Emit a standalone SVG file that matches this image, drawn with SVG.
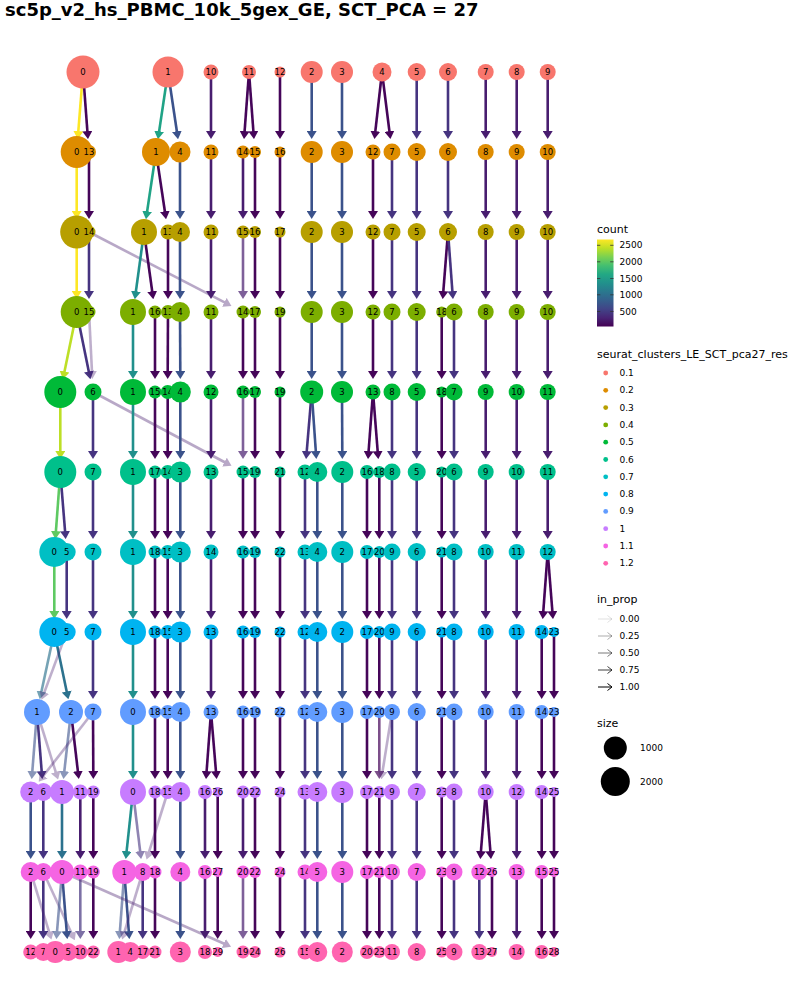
<svg xmlns="http://www.w3.org/2000/svg" width="800" height="1000" viewBox="0 0 800 1000">
<style>
text{font-family:"DejaVu Sans","Liberation Sans",sans-serif;fill:#000}
.title{font-size:18px;font-weight:bold}
.nodes text{font-size:8.5px;text-anchor:middle;dominant-baseline:central}
.lt{font-size:11px}
.ll{font-size:9px;dominant-baseline:central}
#connectors path{fill:none;stroke-width:2.6}
.Y{stroke:#fde725;marker-end:url(#mY)}
.YG{stroke:#bddf26;marker-end:url(#mYG)}
.G{stroke:#5ec962;marker-end:url(#mG)}
.T1{stroke:#20a386;marker-end:url(#mT1)}
.T{stroke:#21908c;marker-end:url(#mT)}
.DT{stroke:#2c728e;marker-end:url(#mDT)}
.B{stroke:#3b528b;marker-end:url(#mB)}
.P2{stroke:#463480;marker-end:url(#mP2)}
.P1{stroke:#481d6f;marker-end:url(#mP1)}
.DP{stroke:#450559;marker-end:url(#mDP)}
.c0 circle{fill:#F8766D}.c1 circle{fill:#DE8C00}.c2 circle{fill:#B79F00}.c3 circle{fill:#7CAE00}
.c4 circle{fill:#00BA38}.c5 circle{fill:#00C08B}.c6 circle{fill:#00BFC4}.c7 circle{fill:#00B4F0}
.c8 circle{fill:#619CFF}.c9 circle{fill:#C77CFF}.c10 circle{fill:#F564E3}.c11 circle{fill:#FF64B0}
</style>
<defs>
<marker id="mY" markerUnits="userSpaceOnUse" markerWidth="8" markerHeight="10" viewBox="0 0 8 10" refX="3" refY="5" orient="auto"><path d="M0,0L8,5L0,10z" fill="#fde725"/></marker>
<marker id="mYG" markerUnits="userSpaceOnUse" markerWidth="8" markerHeight="10" viewBox="0 0 8 10" refX="3" refY="5" orient="auto"><path d="M0,0L8,5L0,10z" fill="#bddf26"/></marker>
<marker id="mG" markerUnits="userSpaceOnUse" markerWidth="8" markerHeight="10" viewBox="0 0 8 10" refX="3" refY="5" orient="auto"><path d="M0,0L8,5L0,10z" fill="#5ec962"/></marker>
<marker id="mT1" markerUnits="userSpaceOnUse" markerWidth="8" markerHeight="10" viewBox="0 0 8 10" refX="3" refY="5" orient="auto"><path d="M0,0L8,5L0,10z" fill="#20a386"/></marker>
<marker id="mT" markerUnits="userSpaceOnUse" markerWidth="8" markerHeight="10" viewBox="0 0 8 10" refX="3" refY="5" orient="auto"><path d="M0,0L8,5L0,10z" fill="#21908c"/></marker>
<marker id="mDT" markerUnits="userSpaceOnUse" markerWidth="8" markerHeight="10" viewBox="0 0 8 10" refX="3" refY="5" orient="auto"><path d="M0,0L8,5L0,10z" fill="#2c728e"/></marker>
<marker id="mB" markerUnits="userSpaceOnUse" markerWidth="8" markerHeight="10" viewBox="0 0 8 10" refX="3" refY="5" orient="auto"><path d="M0,0L8,5L0,10z" fill="#3b528b"/></marker>
<marker id="mP2" markerUnits="userSpaceOnUse" markerWidth="8" markerHeight="10" viewBox="0 0 8 10" refX="3" refY="5" orient="auto"><path d="M0,0L8,5L0,10z" fill="#463480"/></marker>
<marker id="mP1" markerUnits="userSpaceOnUse" markerWidth="8" markerHeight="10" viewBox="0 0 8 10" refX="3" refY="5" orient="auto"><path d="M0,0L8,5L0,10z" fill="#481d6f"/></marker>
<marker id="mDP" markerUnits="userSpaceOnUse" markerWidth="8" markerHeight="10" viewBox="0 0 8 10" refX="3" refY="5" orient="auto"><path d="M0,0L8,5L0,10z" fill="#450559"/></marker>
<linearGradient id="vir" x1="0" y1="1" x2="0" y2="0">
<stop offset="0" stop-color="#440154"/><stop offset="0.1" stop-color="#482475"/><stop offset="0.2" stop-color="#414487"/><stop offset="0.3" stop-color="#355f8d"/><stop offset="0.4" stop-color="#2a788e"/><stop offset="0.5" stop-color="#21918c"/><stop offset="0.6" stop-color="#22a884"/><stop offset="0.7" stop-color="#44bf70"/><stop offset="0.8" stop-color="#7ad151"/><stop offset="0.9" stop-color="#bddf26"/><stop offset="1" stop-color="#fde725"/>
</linearGradient>
</defs>
<rect width="800" height="1000" fill="#fff"/>
<text class="title" x="5" y="16">sc5p_v2_hs_PBMC_10k_5gex_GE, SCT_PCA = 27</text>
<g id="connectors">
<path class="Y" d="M83 72L78.1 134.1"/><path class="DP" d="M83 72L87.6 134.1"/><path class="T1" d="M168 72L158.7 134.2"/><path class="B" d="M168 72L177.3 134.2"/><path class="P1" d="M211 72V134"/><path class="DP" d="M249 72L244.4 134.1"/><path class="DP" d="M249 72L253.6 134.1"/><path class="DP" d="M280 72V134"/><path class="B" d="M311.7 72V134"/><path class="B" d="M342 72V134"/><path class="DP" d="M382 72L375 134.1"/><path class="DP" d="M382 72L389.8 134.1"/><path class="P2" d="M416.7 72V134"/><path class="P2" d="M448 72V134"/><path class="P1" d="M485.7 72V134"/><path class="P1" d="M516.7 72V134"/><path class="P1" d="M547.7 72V134"/>
<path class="Y" d="M76.7 152V214"/><path class="DP" d="M89 152V214"/><path class="T1" d="M156 152L146.7 214.2"/><path class="DP" d="M156 152L165.3 214.2"/><path class="B" d="M180 152V214"/><path class="P1" d="M211 152V214"/><path class="P1" d="M243 152V214"/><path class="DP" d="M255 152V214"/><path class="DP" d="M280 152V214"/><path class="B" d="M311.7 152V214"/><path class="B" d="M342 152V214"/><path class="DP" d="M373 152V214"/><path class="P2" d="M392 152V214"/><path class="P2" d="M416.7 152V214"/><path class="P2" d="M448 152V214"/><path class="P1" d="M485.7 152V214"/><path class="P1" d="M516.7 152V214"/><path class="P1" d="M547.7 152V214"/>
<path class="Y" d="M76.7 232V294"/><path class="P2" d="M89 232V294"/><g opacity=".38"><path class="P1" d="M89 232L227 303.7"/></g><path class="T" d="M144 232L135.5 294.2"/><path class="DP" d="M144 232L152.6 294.2"/><path class="DP" d="M168 232V294"/><path class="B" d="M180 232V294"/><path class="P1" d="M211 232V294"/><g opacity=".7"><path class="P1" d="M243 232V294"/></g><path class="DP" d="M255 232V294"/><path class="DP" d="M280 232V294"/><path class="B" d="M311.7 232V294"/><path class="B" d="M342 232V294"/><path class="DP" d="M373 232V294"/><path class="P2" d="M392 232V294"/><path class="P2" d="M416.7 232V294"/><path class="DP" d="M448 232L443.1 294.1"/><path class="P2" d="M448 232L452.6 294.1"/><path class="P1" d="M485.7 232V294"/><path class="P1" d="M516.7 232V294"/><path class="P1" d="M547.7 232V294"/>
<path class="YG" d="M76.7 312L63.9 374.4"/><path class="P2" d="M76.7 312L89.4 374.4"/><g opacity=".35"><path class="P1" d="M89 312L92.1 374"/></g><path class="T" d="M133 312V374"/><path class="DP" d="M155 312V374"/><path class="DP" d="M168 312L167.7 374"/><path class="B" d="M180 312L180.3 374"/><path class="P1" d="M211 312V374"/><path class="DP" d="M243 312V374"/><path class="DP" d="M255 312V374"/><path class="DP" d="M280 312V374"/><path class="B" d="M311.7 312V374"/><path class="B" d="M342 312V374"/><path class="DP" d="M373 312V374"/><path class="P2" d="M392 312V374"/><path class="P2" d="M416.7 312V374"/><path class="DP" d="M441.7 312V374"/><path class="P2" d="M454 312V374"/><path class="P1" d="M485.7 312V374"/><path class="P1" d="M516.7 312V374"/><path class="P1" d="M547.7 312V374"/>
<path class="YG" d="M60.3 392V454"/><path class="P2" d="M93 392V454"/><g opacity=".38"><path class="P1" d="M93 392L227.1 463.5"/></g><path class="T" d="M133 392V454"/><path class="DP" d="M155 392V454"/><path class="DP" d="M167.7 392V454"/><path class="B" d="M180.3 392V454"/><path class="P1" d="M211 392V454"/><g opacity=".7"><path class="P1" d="M243 392V454"/></g><path class="DP" d="M255 392V454"/><path class="DP" d="M280 392V454"/><path class="P2" d="M311.7 392L306.5 454.1"/><path class="B" d="M311.7 392L316 454"/><path class="B" d="M342 392L342.3 454"/><path class="DP" d="M373 392L368.4 454.1"/><path class="DP" d="M373 392L377.9 454.1"/><path class="P2" d="M392 392V454"/><path class="P2" d="M416.7 392V454"/><path class="DP" d="M441.7 392V454"/><path class="P2" d="M454 392V454"/><path class="P1" d="M485.7 392V454"/><path class="P1" d="M516.7 392V454"/><path class="P1" d="M547.7 392V454"/>
<path class="G" d="M60.3 472L55.7 534.1"/><path class="P2" d="M60.3 472L65.3 534.1"/><path class="P2" d="M93 472V534"/><path class="T" d="M133 472V534"/><path class="DP" d="M155 472V534"/><path class="DP" d="M167.7 472V534"/><path class="B" d="M180.3 472V534"/><path class="P1" d="M211 472V534"/><path class="DP" d="M243 472V534"/><path class="DP" d="M255 472V534"/><path class="DP" d="M280 472V534"/><path class="P2" d="M305 472V534"/><path class="B" d="M317.3 472V534"/><path class="B" d="M342.3 472V534"/><path class="DP" d="M367 472V534"/><path class="DP" d="M379.3 472V534"/><path class="P2" d="M392 472V534"/><path class="P2" d="M416.7 472V534"/><path class="DP" d="M441.7 472V534"/><path class="P2" d="M454 472V534"/><path class="P1" d="M485.7 472V534"/><path class="P1" d="M516.7 472V534"/><path class="P1" d="M547.7 472V534"/>
<path class="G" d="M54.3 552V614"/><path class="P2" d="M66.7 552V614"/><path class="P2" d="M93 552V614"/><path class="T" d="M133 552V614"/><path class="DP" d="M155 552V614"/><path class="DP" d="M167.7 552V614"/><path class="B" d="M180.3 552V614"/><path class="P1" d="M211 552V614"/><path class="DP" d="M243 552V614"/><path class="DP" d="M255 552V614"/><path class="DP" d="M280 552V614"/><path class="P2" d="M305 552V614"/><path class="B" d="M317.3 552V614"/><path class="B" d="M342.3 552V614"/><path class="DP" d="M367 552V614"/><path class="DP" d="M379.3 552V614"/><path class="P2" d="M392 552V614"/><path class="P2" d="M416.7 552V614"/><path class="DP" d="M441.7 552V614"/><path class="P2" d="M454 552V614"/><path class="P1" d="M485.7 552V614"/><path class="P1" d="M516.7 552V614"/><path class="DP" d="M547.7 552L543.1 614.1"/><path class="DP" d="M547.7 552L552.6 614.1"/>
<g opacity=".65"><path class="DT" d="M54.3 632L40.8 694.4"/></g><path class="DT" d="M54.3 632L67.3 694.4"/><g opacity=".35"><path class="P1" d="M66.7 632L43.3 695.1"/></g><path class="P2" d="M93 632V694"/><path class="T" d="M133 632V694"/><path class="DP" d="M155 632V694"/><path class="DP" d="M167.7 632V694"/><path class="B" d="M180.3 632V694"/><path class="P1" d="M211 632V694"/><path class="DP" d="M243 632V694"/><path class="DP" d="M255 632V694"/><path class="DP" d="M280 632V694"/><path class="P2" d="M305 632V694"/><path class="B" d="M317.3 632V694"/><path class="B" d="M342.3 632V694"/><path class="DP" d="M367 632V694"/><path class="DP" d="M379.3 632V694"/><path class="P2" d="M392 632V694"/><path class="P2" d="M416.7 632V694"/><path class="DP" d="M441.7 632V694"/><path class="P2" d="M454 632V694"/><path class="P1" d="M485.7 632V694"/><path class="P1" d="M516.7 632V694"/><path class="DP" d="M541.7 632V694"/><path class="DP" d="M554 632V694"/>
<g opacity=".6"><path class="B" d="M37 712L32.1 774.1"/></g><path class="P2" d="M37 712L41.9 774.1"/><g opacity=".35"><path class="P1" d="M37 712L56.6 774.8"/></g><g opacity=".6"><path class="B" d="M71 712L64 774.1"/></g><path class="DP" d="M71 712L78.2 774.1"/><g opacity=".35"><path class="P1" d="M93 712L41.8 777.8"/></g><path class="DP" d="M93 712L93.3 774"/><path class="T" d="M133 712V774"/><path class="DP" d="M155 712V774"/><path class="DP" d="M167.7 712V774"/><path class="B" d="M180.3 712V774"/><path class="DP" d="M211 712L206.4 774.1"/><path class="DP" d="M211 712L216.2 774.1"/><path class="DP" d="M243 712V774"/><path class="DP" d="M255 712V774"/><path class="DP" d="M280 712V774"/><path class="P2" d="M305 712V774"/><path class="B" d="M317.3 712V774"/><path class="B" d="M342.3 712V774"/><path class="DP" d="M367 712V774"/><g opacity=".7"><path class="DP" d="M379.3 712V774"/></g><g opacity=".35"><path class="P1" d="M392 712L382.1 774.2"/></g><path class="P2" d="M392 712V774"/><path class="P2" d="M416.7 712V774"/><path class="DP" d="M441.7 712V774"/><path class="P2" d="M454 712V774"/><path class="P1" d="M485.7 712V774"/><path class="P1" d="M516.7 712V774"/><path class="DP" d="M541.7 712V774"/><path class="DP" d="M554 712V774"/>
<path class="B" d="M30.7 792V854"/><path class="P2" d="M43.3 792V854"/><path class="DT" d="M62 792V854"/><path class="P1" d="M80.3 792V854"/><path class="DP" d="M93.3 792V854"/><path class="T" d="M133 792L126.3 854.1"/><g opacity=".6"><path class="P2" d="M133 792L140.5 854.1"/></g><g opacity=".35"><path class="P1" d="M167.7 792L148.1 854.8"/></g><path class="DP" d="M155 792V854"/><path class="B" d="M180.3 792V854"/><path class="P1" d="M205 792V854"/><path class="DP" d="M217.7 792V854"/><path class="P1" d="M243 792V854"/><path class="DP" d="M255 792V854"/><path class="DP" d="M280 792V854"/><path class="P2" d="M305 792V854"/><path class="B" d="M317.3 792V854"/><path class="B" d="M342.3 792V854"/><path class="DP" d="M367 792V854"/><path class="DP" d="M379.3 792V854"/><path class="P2" d="M392 792V854"/><path class="P2" d="M416.7 792V854"/><path class="DP" d="M441.7 792V854"/><path class="P2" d="M454 792V854"/><path class="DP" d="M485.7 792L480.7 854.1"/><path class="DP" d="M485.7 792L490.6 854.1"/><path class="P1" d="M516.7 792V854"/><path class="DP" d="M541.7 792V854"/><path class="DP" d="M554 792V854"/>
<path class="DP" d="M30.7 872V934"/><path class="P2" d="M43.3 872V934"/><g opacity=".35"><path class="P1" d="M30.7 872L50 934.8"/></g><g opacity=".35"><path class="P1" d="M43.3 872L72.7 935.7"/></g><g opacity=".6"><path class="B" d="M62 872L56.8 934.1"/></g><path class="B" d="M62 872L66.9 934.1"/><g opacity=".7"><path class="P2" d="M80.3 872V934"/></g><path class="DP" d="M93.3 872V934"/><g opacity=".6"><path class="B" d="M124.3 872L119.7 934.1"/></g><path class="B" d="M124.3 872L129 934.1"/><g opacity=".35"><path class="P1" d="M142.7 872L123.6 934.8"/></g><path class="P2" d="M142.7 872V934"/><path class="DP" d="M155 872V934"/><g opacity=".38"><path class="P1" d="M62 872L226.5 944.7"/></g><path class="B" d="M180.3 872V934"/><path class="P1" d="M205 872V934"/><path class="DP" d="M217.7 872V934"/><g opacity=".7"><path class="P1" d="M243 872V934"/></g><path class="DP" d="M255 872V934"/><path class="DP" d="M280 872V934"/><path class="P2" d="M305 872V934"/><path class="B" d="M317.3 872V934"/><path class="B" d="M342.3 872V934"/><path class="DP" d="M367 872V934"/><path class="DP" d="M379.3 872V934"/><path class="P2" d="M392 872V934"/><path class="P2" d="M416.7 872V934"/><path class="DP" d="M441.7 872V934"/><path class="P2" d="M454 872V934"/><path class="P2" d="M479.3 872V934"/><path class="DP" d="M492 872V934"/><path class="P1" d="M516.7 872V934"/><path class="DP" d="M541.7 872V934"/><path class="DP" d="M554 872V934"/>
</g>
<g class="nodes">
<g id="res0.1" class="c0">
<g id="r0_0"><circle cx="83" cy="72" r="16.5"/><text x="83" y="72">0</text></g>
<g id="r0_1"><circle cx="168" cy="72" r="15.5"/><text x="168" y="72">1</text></g>
<g id="r0_10"><circle cx="211" cy="72" r="7.5"/><text x="211" y="72">10</text></g>
<g id="r0_11"><circle cx="249" cy="72" r="7"/><text x="249" y="72">11</text></g>
<g id="r0_12"><circle cx="280" cy="72" r="5.5"/><text x="280" y="72">12</text></g>
<g id="r0_2"><circle cx="311.7" cy="72" r="11"/><text x="311.7" y="72">2</text></g>
<g id="r0_3"><circle cx="342" cy="72" r="11"/><text x="342" y="72">3</text></g>
<g id="r0_4"><circle cx="382" cy="72" r="9.5"/><text x="382" y="72">4</text></g>
<g id="r0_5"><circle cx="416.7" cy="72" r="9"/><text x="416.7" y="72">5</text></g>
<g id="r0_6"><circle cx="448" cy="72" r="9"/><text x="448" y="72">6</text></g>
<g id="r0_7"><circle cx="485.7" cy="72" r="8"/><text x="485.7" y="72">7</text></g>
<g id="r0_8"><circle cx="516.7" cy="72" r="8"/><text x="516.7" y="72">8</text></g>
<g id="r0_9"><circle cx="547.7" cy="72" r="8"/><text x="547.7" y="72">9</text></g>
</g>
<g id="res0.2" class="c1">
<g id="r1_0"><circle cx="76.7" cy="152" r="16"/><text x="76.7" y="152">0</text></g>
<g id="r1_13"><circle cx="89" cy="152" r="7"/><text x="89" y="152">13</text></g>
<g id="r1_1"><circle cx="156" cy="152" r="14"/><text x="156" y="152">1</text></g>
<g id="r1_4"><circle cx="180" cy="152" r="10.5"/><text x="180" y="152">4</text></g>
<g id="r1_11"><circle cx="211" cy="152" r="7.5"/><text x="211" y="152">11</text></g>
<g id="r1_14"><circle cx="243" cy="152" r="6.5"/><text x="243" y="152">14</text></g>
<g id="r1_15"><circle cx="255" cy="152" r="6"/><text x="255" y="152">15</text></g>
<g id="r1_16"><circle cx="280" cy="152" r="5.5"/><text x="280" y="152">16</text></g>
<g id="r1_2"><circle cx="311.7" cy="152" r="11"/><text x="311.7" y="152">2</text></g>
<g id="r1_3"><circle cx="342" cy="152" r="11"/><text x="342" y="152">3</text></g>
<g id="r1_12"><circle cx="373" cy="152" r="7.5"/><text x="373" y="152">12</text></g>
<g id="r1_7"><circle cx="392" cy="152" r="8.5"/><text x="392" y="152">7</text></g>
<g id="r1_5"><circle cx="416.7" cy="152" r="9"/><text x="416.7" y="152">5</text></g>
<g id="r1_6"><circle cx="448" cy="152" r="9"/><text x="448" y="152">6</text></g>
<g id="r1_8"><circle cx="485.7" cy="152" r="8"/><text x="485.7" y="152">8</text></g>
<g id="r1_9"><circle cx="516.7" cy="152" r="8"/><text x="516.7" y="152">9</text></g>
<g id="r1_10"><circle cx="547.7" cy="152" r="8"/><text x="547.7" y="152">10</text></g>
</g>
<g id="res0.3" class="c2">
<g id="r2_0"><circle cx="76.7" cy="232" r="16.5"/><text x="76.7" y="232">0</text></g>
<g id="r2_14"><circle cx="89" cy="232" r="6.5"/><text x="89" y="232">14</text></g>
<g id="r2_1"><circle cx="144" cy="232" r="13"/><text x="144" y="232">1</text></g>
<g id="r2_13"><circle cx="168" cy="232" r="7.5"/><text x="168" y="232">13</text></g>
<g id="r2_4"><circle cx="180" cy="232" r="10"/><text x="180" y="232">4</text></g>
<g id="r2_11"><circle cx="211" cy="232" r="7.5"/><text x="211" y="232">11</text></g>
<g id="r2_15"><circle cx="243" cy="232" r="6.5"/><text x="243" y="232">15</text></g>
<g id="r2_16"><circle cx="255" cy="232" r="6"/><text x="255" y="232">16</text></g>
<g id="r2_17"><circle cx="280" cy="232" r="5.5"/><text x="280" y="232">17</text></g>
<g id="r2_2"><circle cx="311.7" cy="232" r="11"/><text x="311.7" y="232">2</text></g>
<g id="r2_3"><circle cx="342" cy="232" r="11"/><text x="342" y="232">3</text></g>
<g id="r2_12"><circle cx="373" cy="232" r="7.5"/><text x="373" y="232">12</text></g>
<g id="r2_7"><circle cx="392" cy="232" r="8.5"/><text x="392" y="232">7</text></g>
<g id="r2_5"><circle cx="416.7" cy="232" r="9"/><text x="416.7" y="232">5</text></g>
<g id="r2_6"><circle cx="448" cy="232" r="9"/><text x="448" y="232">6</text></g>
<g id="r2_8"><circle cx="485.7" cy="232" r="8"/><text x="485.7" y="232">8</text></g>
<g id="r2_9"><circle cx="516.7" cy="232" r="8"/><text x="516.7" y="232">9</text></g>
<g id="r2_10"><circle cx="547.7" cy="232" r="8"/><text x="547.7" y="232">10</text></g>
</g>
<g id="res0.4" class="c3">
<g id="r3_0"><circle cx="76.7" cy="312" r="16"/><text x="76.7" y="312">0</text></g>
<g id="r3_15"><circle cx="89" cy="312" r="6.5"/><text x="89" y="312">15</text></g>
<g id="r3_1"><circle cx="133" cy="312" r="13"/><text x="133" y="312">1</text></g>
<g id="r3_16"><circle cx="155" cy="312" r="6.5"/><text x="155" y="312">16</text></g>
<g id="r3_13"><circle cx="168" cy="312" r="7"/><text x="168" y="312">13</text></g>
<g id="r3_4"><circle cx="180" cy="312" r="10"/><text x="180" y="312">4</text></g>
<g id="r3_11"><circle cx="211" cy="312" r="7.5"/><text x="211" y="312">11</text></g>
<g id="r3_14"><circle cx="243" cy="312" r="6.5"/><text x="243" y="312">14</text></g>
<g id="r3_17"><circle cx="255" cy="312" r="6"/><text x="255" y="312">17</text></g>
<g id="r3_19"><circle cx="280" cy="312" r="5.5"/><text x="280" y="312">19</text></g>
<g id="r3_2"><circle cx="311.7" cy="312" r="11"/><text x="311.7" y="312">2</text></g>
<g id="r3_3"><circle cx="342" cy="312" r="11"/><text x="342" y="312">3</text></g>
<g id="r3_12"><circle cx="373" cy="312" r="7.5"/><text x="373" y="312">12</text></g>
<g id="r3_7"><circle cx="392" cy="312" r="8.5"/><text x="392" y="312">7</text></g>
<g id="r3_5"><circle cx="416.7" cy="312" r="9"/><text x="416.7" y="312">5</text></g>
<g id="r3_18"><circle cx="441.7" cy="312" r="5.5"/><text x="441.7" y="312">18</text></g>
<g id="r3_6"><circle cx="454" cy="312" r="8.5"/><text x="454" y="312">6</text></g>
<g id="r3_8"><circle cx="485.7" cy="312" r="8"/><text x="485.7" y="312">8</text></g>
<g id="r3_9"><circle cx="516.7" cy="312" r="8"/><text x="516.7" y="312">9</text></g>
<g id="r3_10"><circle cx="547.7" cy="312" r="8"/><text x="547.7" y="312">10</text></g>
</g>
<g id="res0.5" class="c4">
<g id="r4_0"><circle cx="60.3" cy="392" r="16"/><text x="60.3" y="392">0</text></g>
<g id="r4_6"><circle cx="93" cy="392" r="8.5"/><text x="93" y="392">6</text></g>
<g id="r4_1"><circle cx="133" cy="392" r="13"/><text x="133" y="392">1</text></g>
<g id="r4_15"><circle cx="155" cy="392" r="6.5"/><text x="155" y="392">15</text></g>
<g id="r4_14"><circle cx="167.7" cy="392" r="7"/><text x="167.7" y="392">14</text></g>
<g id="r4_4"><circle cx="180.3" cy="392" r="10.5"/><text x="180.3" y="392">4</text></g>
<g id="r4_12"><circle cx="211" cy="392" r="7.5"/><text x="211" y="392">12</text></g>
<g id="r4_16"><circle cx="243" cy="392" r="6.5"/><text x="243" y="392">16</text></g>
<g id="r4_17"><circle cx="255" cy="392" r="6"/><text x="255" y="392">17</text></g>
<g id="r4_19"><circle cx="280" cy="392" r="5.5"/><text x="280" y="392">19</text></g>
<g id="r4_2"><circle cx="311.7" cy="392" r="11.5"/><text x="311.7" y="392">2</text></g>
<g id="r4_3"><circle cx="342" cy="392" r="11"/><text x="342" y="392">3</text></g>
<g id="r4_13"><circle cx="373" cy="392" r="7.5"/><text x="373" y="392">13</text></g>
<g id="r4_8"><circle cx="392" cy="392" r="8.5"/><text x="392" y="392">8</text></g>
<g id="r4_5"><circle cx="416.7" cy="392" r="9"/><text x="416.7" y="392">5</text></g>
<g id="r4_18"><circle cx="441.7" cy="392" r="5.5"/><text x="441.7" y="392">18</text></g>
<g id="r4_7"><circle cx="454" cy="392" r="8.5"/><text x="454" y="392">7</text></g>
<g id="r4_9"><circle cx="485.7" cy="392" r="8"/><text x="485.7" y="392">9</text></g>
<g id="r4_10"><circle cx="516.7" cy="392" r="8"/><text x="516.7" y="392">10</text></g>
<g id="r4_11"><circle cx="547.7" cy="392" r="8"/><text x="547.7" y="392">11</text></g>
</g>
<g id="res0.6" class="c5">
<g id="r5_0"><circle cx="60.3" cy="472" r="16"/><text x="60.3" y="472">0</text></g>
<g id="r5_7"><circle cx="93" cy="472" r="8.5"/><text x="93" y="472">7</text></g>
<g id="r5_1"><circle cx="133" cy="472" r="13"/><text x="133" y="472">1</text></g>
<g id="r5_17"><circle cx="155" cy="472" r="6.5"/><text x="155" y="472">17</text></g>
<g id="r5_14"><circle cx="167.7" cy="472" r="7"/><text x="167.7" y="472">14</text></g>
<g id="r5_3"><circle cx="180.3" cy="472" r="10.5"/><text x="180.3" y="472">3</text></g>
<g id="r5_13"><circle cx="211" cy="472" r="7.5"/><text x="211" y="472">13</text></g>
<g id="r5_15"><circle cx="243" cy="472" r="6.5"/><text x="243" y="472">15</text></g>
<g id="r5_19"><circle cx="255" cy="472" r="6"/><text x="255" y="472">19</text></g>
<g id="r5_21"><circle cx="280" cy="472" r="5.5"/><text x="280" y="472">21</text></g>
<g id="r5_12"><circle cx="305" cy="472" r="7.5"/><text x="305" y="472">12</text></g>
<g id="r5_4"><circle cx="317.3" cy="472" r="10"/><text x="317.3" y="472">4</text></g>
<g id="r5_2"><circle cx="342.3" cy="472" r="11"/><text x="342.3" y="472">2</text></g>
<g id="r5_16"><circle cx="367" cy="472" r="7"/><text x="367" y="472">16</text></g>
<g id="r5_18"><circle cx="379.3" cy="472" r="6"/><text x="379.3" y="472">18</text></g>
<g id="r5_8"><circle cx="392" cy="472" r="8.5"/><text x="392" y="472">8</text></g>
<g id="r5_5"><circle cx="416.7" cy="472" r="9"/><text x="416.7" y="472">5</text></g>
<g id="r5_20"><circle cx="441.7" cy="472" r="5.5"/><text x="441.7" y="472">20</text></g>
<g id="r5_6"><circle cx="454" cy="472" r="8.5"/><text x="454" y="472">6</text></g>
<g id="r5_9"><circle cx="485.7" cy="472" r="8"/><text x="485.7" y="472">9</text></g>
<g id="r5_10"><circle cx="516.7" cy="472" r="8"/><text x="516.7" y="472">10</text></g>
<g id="r5_11"><circle cx="547.7" cy="472" r="8"/><text x="547.7" y="472">11</text></g>
</g>
<g id="res0.7" class="c6">
<g id="r6_0"><circle cx="54.3" cy="552" r="15"/><text x="54.3" y="552">0</text></g>
<g id="r6_5"><circle cx="66.7" cy="552" r="9"/><text x="66.7" y="552">5</text></g>
<g id="r6_7"><circle cx="93" cy="552" r="8.5"/><text x="93" y="552">7</text></g>
<g id="r6_1"><circle cx="133" cy="552" r="13"/><text x="133" y="552">1</text></g>
<g id="r6_18"><circle cx="155" cy="552" r="6.5"/><text x="155" y="552">18</text></g>
<g id="r6_15"><circle cx="167.7" cy="552" r="7"/><text x="167.7" y="552">15</text></g>
<g id="r6_3"><circle cx="180.3" cy="552" r="10.5"/><text x="180.3" y="552">3</text></g>
<g id="r6_14"><circle cx="211" cy="552" r="7.5"/><text x="211" y="552">14</text></g>
<g id="r6_16"><circle cx="243" cy="552" r="6.5"/><text x="243" y="552">16</text></g>
<g id="r6_19"><circle cx="255" cy="552" r="6"/><text x="255" y="552">19</text></g>
<g id="r6_22"><circle cx="280" cy="552" r="5.5"/><text x="280" y="552">22</text></g>
<g id="r6_13"><circle cx="305" cy="552" r="7.5"/><text x="305" y="552">13</text></g>
<g id="r6_4"><circle cx="317.3" cy="552" r="10"/><text x="317.3" y="552">4</text></g>
<g id="r6_2"><circle cx="342.3" cy="552" r="11"/><text x="342.3" y="552">2</text></g>
<g id="r6_17"><circle cx="367" cy="552" r="7"/><text x="367" y="552">17</text></g>
<g id="r6_20"><circle cx="379.3" cy="552" r="6"/><text x="379.3" y="552">20</text></g>
<g id="r6_9"><circle cx="392" cy="552" r="8.5"/><text x="392" y="552">9</text></g>
<g id="r6_6"><circle cx="416.7" cy="552" r="9"/><text x="416.7" y="552">6</text></g>
<g id="r6_21"><circle cx="441.7" cy="552" r="5.5"/><text x="441.7" y="552">21</text></g>
<g id="r6_8"><circle cx="454" cy="552" r="8.5"/><text x="454" y="552">8</text></g>
<g id="r6_10"><circle cx="485.7" cy="552" r="8"/><text x="485.7" y="552">10</text></g>
<g id="r6_11"><circle cx="516.7" cy="552" r="8"/><text x="516.7" y="552">11</text></g>
<g id="r6_12"><circle cx="547.7" cy="552" r="8"/><text x="547.7" y="552">12</text></g>
</g>
<g id="res0.8" class="c7">
<g id="r7_0"><circle cx="54.3" cy="632" r="15"/><text x="54.3" y="632">0</text></g>
<g id="r7_5"><circle cx="66.7" cy="632" r="9"/><text x="66.7" y="632">5</text></g>
<g id="r7_7"><circle cx="93" cy="632" r="8.5"/><text x="93" y="632">7</text></g>
<g id="r7_1"><circle cx="133" cy="632" r="13"/><text x="133" y="632">1</text></g>
<g id="r7_18"><circle cx="155" cy="632" r="6.5"/><text x="155" y="632">18</text></g>
<g id="r7_15"><circle cx="167.7" cy="632" r="7"/><text x="167.7" y="632">15</text></g>
<g id="r7_3"><circle cx="180.3" cy="632" r="10.5"/><text x="180.3" y="632">3</text></g>
<g id="r7_13"><circle cx="211" cy="632" r="7.5"/><text x="211" y="632">13</text></g>
<g id="r7_16"><circle cx="243" cy="632" r="6.5"/><text x="243" y="632">16</text></g>
<g id="r7_19"><circle cx="255" cy="632" r="6"/><text x="255" y="632">19</text></g>
<g id="r7_22"><circle cx="280" cy="632" r="5.5"/><text x="280" y="632">22</text></g>
<g id="r7_12"><circle cx="305" cy="632" r="7.5"/><text x="305" y="632">12</text></g>
<g id="r7_4"><circle cx="317.3" cy="632" r="10"/><text x="317.3" y="632">4</text></g>
<g id="r7_2"><circle cx="342.3" cy="632" r="11"/><text x="342.3" y="632">2</text></g>
<g id="r7_17"><circle cx="367" cy="632" r="7"/><text x="367" y="632">17</text></g>
<g id="r7_20"><circle cx="379.3" cy="632" r="6"/><text x="379.3" y="632">20</text></g>
<g id="r7_9"><circle cx="392" cy="632" r="8.5"/><text x="392" y="632">9</text></g>
<g id="r7_6"><circle cx="416.7" cy="632" r="9"/><text x="416.7" y="632">6</text></g>
<g id="r7_21"><circle cx="441.7" cy="632" r="5.5"/><text x="441.7" y="632">21</text></g>
<g id="r7_8"><circle cx="454" cy="632" r="8.5"/><text x="454" y="632">8</text></g>
<g id="r7_10"><circle cx="485.7" cy="632" r="8"/><text x="485.7" y="632">10</text></g>
<g id="r7_11"><circle cx="516.7" cy="632" r="8"/><text x="516.7" y="632">11</text></g>
<g id="r7_14"><circle cx="541.7" cy="632" r="7"/><text x="541.7" y="632">14</text></g>
<g id="r7_23"><circle cx="554" cy="632" r="5"/><text x="554" y="632">23</text></g>
</g>
<g id="res0.9" class="c8">
<g id="r8_1"><circle cx="37" cy="712" r="13"/><text x="37" y="712">1</text></g>
<g id="r8_2"><circle cx="71" cy="712" r="12"/><text x="71" y="712">2</text></g>
<g id="r8_7"><circle cx="93" cy="712" r="8.5"/><text x="93" y="712">7</text></g>
<g id="r8_0"><circle cx="133" cy="712" r="13"/><text x="133" y="712">0</text></g>
<g id="r8_18"><circle cx="155" cy="712" r="6.5"/><text x="155" y="712">18</text></g>
<g id="r8_15"><circle cx="167.7" cy="712" r="7"/><text x="167.7" y="712">15</text></g>
<g id="r8_4"><circle cx="180.3" cy="712" r="10"/><text x="180.3" y="712">4</text></g>
<g id="r8_13"><circle cx="211" cy="712" r="7.5"/><text x="211" y="712">13</text></g>
<g id="r8_16"><circle cx="243" cy="712" r="6.5"/><text x="243" y="712">16</text></g>
<g id="r8_19"><circle cx="255" cy="712" r="6"/><text x="255" y="712">19</text></g>
<g id="r8_22"><circle cx="280" cy="712" r="5.5"/><text x="280" y="712">22</text></g>
<g id="r8_12"><circle cx="305" cy="712" r="7.5"/><text x="305" y="712">12</text></g>
<g id="r8_5"><circle cx="317.3" cy="712" r="10"/><text x="317.3" y="712">5</text></g>
<g id="r8_3"><circle cx="342.3" cy="712" r="11"/><text x="342.3" y="712">3</text></g>
<g id="r8_17"><circle cx="367" cy="712" r="7"/><text x="367" y="712">17</text></g>
<g id="r8_20"><circle cx="379.3" cy="712" r="6"/><text x="379.3" y="712">20</text></g>
<g id="r8_9"><circle cx="392" cy="712" r="8"/><text x="392" y="712">9</text></g>
<g id="r8_6"><circle cx="416.7" cy="712" r="9"/><text x="416.7" y="712">6</text></g>
<g id="r8_21"><circle cx="441.7" cy="712" r="5.5"/><text x="441.7" y="712">21</text></g>
<g id="r8_8"><circle cx="454" cy="712" r="8.5"/><text x="454" y="712">8</text></g>
<g id="r8_10"><circle cx="485.7" cy="712" r="8"/><text x="485.7" y="712">10</text></g>
<g id="r8_11"><circle cx="516.7" cy="712" r="8"/><text x="516.7" y="712">11</text></g>
<g id="r8_14"><circle cx="541.7" cy="712" r="7"/><text x="541.7" y="712">14</text></g>
<g id="r8_23"><circle cx="554" cy="712" r="5"/><text x="554" y="712">23</text></g>
</g>
<g id="res1" class="c9">
<g id="r9_2"><circle cx="30.7" cy="792" r="10.5"/><text x="30.7" y="792">2</text></g>
<g id="r9_6"><circle cx="43.3" cy="792" r="9"/><text x="43.3" y="792">6</text></g>
<g id="r9_1"><circle cx="62" cy="792" r="12"/><text x="62" y="792">1</text></g>
<g id="r9_11"><circle cx="80.3" cy="792" r="7.5"/><text x="80.3" y="792">11</text></g>
<g id="r9_19"><circle cx="93.3" cy="792" r="6.5"/><text x="93.3" y="792">19</text></g>
<g id="r9_0"><circle cx="133" cy="792" r="13"/><text x="133" y="792">0</text></g>
<g id="r9_18"><circle cx="155" cy="792" r="6.5"/><text x="155" y="792">18</text></g>
<g id="r9_15"><circle cx="167.7" cy="792" r="7"/><text x="167.7" y="792">15</text></g>
<g id="r9_4"><circle cx="180.3" cy="792" r="10"/><text x="180.3" y="792">4</text></g>
<g id="r9_16"><circle cx="205" cy="792" r="7"/><text x="205" y="792">16</text></g>
<g id="r9_26"><circle cx="217.7" cy="792" r="5"/><text x="217.7" y="792">26</text></g>
<g id="r9_20"><circle cx="243" cy="792" r="6.5"/><text x="243" y="792">20</text></g>
<g id="r9_22"><circle cx="255" cy="792" r="6"/><text x="255" y="792">22</text></g>
<g id="r9_24"><circle cx="280" cy="792" r="5.5"/><text x="280" y="792">24</text></g>
<g id="r9_13"><circle cx="305" cy="792" r="7.5"/><text x="305" y="792">13</text></g>
<g id="r9_5"><circle cx="317.3" cy="792" r="10"/><text x="317.3" y="792">5</text></g>
<g id="r9_3"><circle cx="342.3" cy="792" r="11"/><text x="342.3" y="792">3</text></g>
<g id="r9_17"><circle cx="367" cy="792" r="7"/><text x="367" y="792">17</text></g>
<g id="r9_21"><circle cx="379.3" cy="792" r="6"/><text x="379.3" y="792">21</text></g>
<g id="r9_9"><circle cx="392" cy="792" r="8"/><text x="392" y="792">9</text></g>
<g id="r9_7"><circle cx="416.7" cy="792" r="9"/><text x="416.7" y="792">7</text></g>
<g id="r9_23"><circle cx="441.7" cy="792" r="5.5"/><text x="441.7" y="792">23</text></g>
<g id="r9_8"><circle cx="454" cy="792" r="8.5"/><text x="454" y="792">8</text></g>
<g id="r9_10"><circle cx="485.7" cy="792" r="8"/><text x="485.7" y="792">10</text></g>
<g id="r9_12"><circle cx="516.7" cy="792" r="8"/><text x="516.7" y="792">12</text></g>
<g id="r9_14"><circle cx="541.7" cy="792" r="7"/><text x="541.7" y="792">14</text></g>
<g id="r9_25"><circle cx="554" cy="792" r="5"/><text x="554" y="792">25</text></g>
</g>
<g id="res1.1" class="c10">
<g id="r10_2"><circle cx="30.7" cy="872" r="10"/><text x="30.7" y="872">2</text></g>
<g id="r10_6"><circle cx="43.3" cy="872" r="9"/><text x="43.3" y="872">6</text></g>
<g id="r10_0"><circle cx="62" cy="872" r="12"/><text x="62" y="872">0</text></g>
<g id="r10_11"><circle cx="80.3" cy="872" r="7.5"/><text x="80.3" y="872">11</text></g>
<g id="r10_19"><circle cx="93.3" cy="872" r="6.5"/><text x="93.3" y="872">19</text></g>
<g id="r10_1"><circle cx="124.3" cy="872" r="12"/><text x="124.3" y="872">1</text></g>
<g id="r10_8"><circle cx="142.7" cy="872" r="9"/><text x="142.7" y="872">8</text></g>
<g id="r10_18"><circle cx="155" cy="872" r="6.5"/><text x="155" y="872">18</text></g>
<g id="r10_4"><circle cx="180.3" cy="872" r="10"/><text x="180.3" y="872">4</text></g>
<g id="r10_16"><circle cx="205" cy="872" r="7"/><text x="205" y="872">16</text></g>
<g id="r10_27"><circle cx="217.7" cy="872" r="5"/><text x="217.7" y="872">27</text></g>
<g id="r10_20"><circle cx="243" cy="872" r="6.5"/><text x="243" y="872">20</text></g>
<g id="r10_22"><circle cx="255" cy="872" r="6"/><text x="255" y="872">22</text></g>
<g id="r10_24"><circle cx="280" cy="872" r="5.5"/><text x="280" y="872">24</text></g>
<g id="r10_14"><circle cx="305" cy="872" r="7.5"/><text x="305" y="872">14</text></g>
<g id="r10_5"><circle cx="317.3" cy="872" r="10"/><text x="317.3" y="872">5</text></g>
<g id="r10_3"><circle cx="342.3" cy="872" r="11"/><text x="342.3" y="872">3</text></g>
<g id="r10_17"><circle cx="367" cy="872" r="7"/><text x="367" y="872">17</text></g>
<g id="r10_21"><circle cx="379.3" cy="872" r="6"/><text x="379.3" y="872">21</text></g>
<g id="r10_10"><circle cx="392" cy="872" r="8"/><text x="392" y="872">10</text></g>
<g id="r10_7"><circle cx="416.7" cy="872" r="9"/><text x="416.7" y="872">7</text></g>
<g id="r10_23"><circle cx="441.7" cy="872" r="5.5"/><text x="441.7" y="872">23</text></g>
<g id="r10_9"><circle cx="454" cy="872" r="8.5"/><text x="454" y="872">9</text></g>
<g id="r10_12"><circle cx="479.3" cy="872" r="8"/><text x="479.3" y="872">12</text></g>
<g id="r10_26"><circle cx="492" cy="872" r="5"/><text x="492" y="872">26</text></g>
<g id="r10_13"><circle cx="516.7" cy="872" r="8"/><text x="516.7" y="872">13</text></g>
<g id="r10_15"><circle cx="541.7" cy="872" r="7"/><text x="541.7" y="872">15</text></g>
<g id="r10_25"><circle cx="554" cy="872" r="5"/><text x="554" y="872">25</text></g>
</g>
<g id="res1.2" class="c11">
<g id="r11_12"><circle cx="30.7" cy="952" r="7.5"/><text x="30.7" y="952">12</text></g>
<g id="r11_7"><circle cx="43.3" cy="952" r="9"/><text x="43.3" y="952">7</text></g>
<g id="r11_0"><circle cx="55.3" cy="952" r="11"/><text x="55.3" y="952">0</text></g>
<g id="r11_5"><circle cx="68.3" cy="952" r="9"/><text x="68.3" y="952">5</text></g>
<g id="r11_10"><circle cx="80.3" cy="952" r="7.5"/><text x="80.3" y="952">10</text></g>
<g id="r11_22"><circle cx="93.3" cy="952" r="6.5"/><text x="93.3" y="952">22</text></g>
<g id="r11_1"><circle cx="118.3" cy="952" r="11"/><text x="118.3" y="952">1</text></g>
<g id="r11_4"><circle cx="130.3" cy="952" r="10"/><text x="130.3" y="952">4</text></g>
<g id="r11_17"><circle cx="142.7" cy="952" r="7"/><text x="142.7" y="952">17</text></g>
<g id="r11_21"><circle cx="155" cy="952" r="6.5"/><text x="155" y="952">21</text></g>
<g id="r11_3"><circle cx="180.3" cy="952" r="10.5"/><text x="180.3" y="952">3</text></g>
<g id="r11_18"><circle cx="205" cy="952" r="7"/><text x="205" y="952">18</text></g>
<g id="r11_29"><circle cx="217.7" cy="952" r="5"/><text x="217.7" y="952">29</text></g>
<g id="r11_19"><circle cx="243" cy="952" r="6.5"/><text x="243" y="952">19</text></g>
<g id="r11_24"><circle cx="255" cy="952" r="6"/><text x="255" y="952">24</text></g>
<g id="r11_26"><circle cx="280" cy="952" r="5.5"/><text x="280" y="952">26</text></g>
<g id="r11_15"><circle cx="305" cy="952" r="7.5"/><text x="305" y="952">15</text></g>
<g id="r11_6"><circle cx="317.3" cy="952" r="10"/><text x="317.3" y="952">6</text></g>
<g id="r11_2"><circle cx="342.3" cy="952" r="10.5"/><text x="342.3" y="952">2</text></g>
<g id="r11_20"><circle cx="367" cy="952" r="7"/><text x="367" y="952">20</text></g>
<g id="r11_23"><circle cx="379.3" cy="952" r="6"/><text x="379.3" y="952">23</text></g>
<g id="r11_11"><circle cx="392" cy="952" r="8"/><text x="392" y="952">11</text></g>
<g id="r11_8"><circle cx="416.7" cy="952" r="9"/><text x="416.7" y="952">8</text></g>
<g id="r11_25"><circle cx="441.7" cy="952" r="5.5"/><text x="441.7" y="952">25</text></g>
<g id="r11_9"><circle cx="454" cy="952" r="8.5"/><text x="454" y="952">9</text></g>
<g id="r11_13"><circle cx="479.3" cy="952" r="8"/><text x="479.3" y="952">13</text></g>
<g id="r11_27"><circle cx="492" cy="952" r="5"/><text x="492" y="952">27</text></g>
<g id="r11_14"><circle cx="516.7" cy="952" r="8"/><text x="516.7" y="952">14</text></g>
<g id="r11_16"><circle cx="541.7" cy="952" r="7"/><text x="541.7" y="952">16</text></g>
<g id="r11_28"><circle cx="554" cy="952" r="5"/><text x="554" y="952">28</text></g>
</g>
</g>
<g id="legend-count">
<text class="lt" x="597" y="233">count</text>
<rect x="597" y="239.5" width="16.5" height="87" fill="url(#vir)"/>
<g stroke="#333" stroke-width="0.8">
<path d="M597 245.3h3.3M610.2 245.3h3.3M597 261.8h3.3M610.2 261.8h3.3M597 278.5h3.3M610.2 278.5h3.3M597 294.8h3.3M610.2 294.8h3.3M597 311.5h3.3M610.2 311.5h3.3"/>
</g>
<text class="ll" x="619.5" y="245.3">2500</text>
<text class="ll" x="619.5" y="261.8">2000</text>
<text class="ll" x="619.5" y="278.5">1500</text>
<text class="ll" x="619.5" y="294.8">1000</text>
<text class="ll" x="619.5" y="311.5">500</text>
</g>
<g id="legend-res">
<text class="lt" x="597" y="357.5">seurat_clusters_LE_SCT_pca27_res</text>
<circle cx="605.7" cy="373" r="2.4" fill="#F8766D"/><text class="ll" x="619.5" y="373">0.1</text>
<circle cx="605.7" cy="390.3" r="2.4" fill="#DE8C00"/><text class="ll" x="619.5" y="390.3">0.2</text>
<circle cx="605.7" cy="407.6" r="2.4" fill="#B79F00"/><text class="ll" x="619.5" y="407.6">0.3</text>
<circle cx="605.7" cy="424.9" r="2.4" fill="#7CAE00"/><text class="ll" x="619.5" y="424.9">0.4</text>
<circle cx="605.7" cy="442.2" r="2.4" fill="#00BA38"/><text class="ll" x="619.5" y="442.2">0.5</text>
<circle cx="605.7" cy="459.5" r="2.4" fill="#00C08B"/><text class="ll" x="619.5" y="459.5">0.6</text>
<circle cx="605.7" cy="476.8" r="2.4" fill="#00BFC4"/><text class="ll" x="619.5" y="476.8">0.7</text>
<circle cx="605.7" cy="494.1" r="2.4" fill="#00B4F0"/><text class="ll" x="619.5" y="494.1">0.8</text>
<circle cx="605.7" cy="511.4" r="2.4" fill="#619CFF"/><text class="ll" x="619.5" y="511.4">0.9</text>
<circle cx="605.7" cy="528.7" r="2.4" fill="#C77CFF"/><text class="ll" x="619.5" y="528.7">1</text>
<circle cx="605.7" cy="546" r="2.4" fill="#F564E3"/><text class="ll" x="619.5" y="546">1.1</text>
<circle cx="605.7" cy="563.3" r="2.4" fill="#FF64B0"/><text class="ll" x="619.5" y="563.3">1.2</text>
</g>
<g id="legend-inprop" fill="none" stroke="#000" stroke-width="1">
<text class="lt" x="597" y="603" stroke="none">in_prop</text>
<path d="M598 619h14M607.5 615.5L612 619L607.5 622.5" stroke-opacity="0.12"/>
<path d="M598 636h14M607.5 632.5L612 636L607.5 639.5" stroke-opacity="0.32"/>
<path d="M598 653h14M607.5 649.5L612 653L607.5 656.5" stroke-opacity="0.52"/>
<path d="M598 670h14M607.5 666.5L612 670L607.5 673.5" stroke-opacity="0.75"/>
<path d="M598 687h14M607.5 683.5L612 687L607.5 690.5" stroke-opacity="1"/>
<text class="ll" x="619.5" y="619" stroke="none" fill="#000">0.00</text>
<text class="ll" x="619.5" y="636" stroke="none" fill="#000">0.25</text>
<text class="ll" x="619.5" y="653" stroke="none" fill="#000">0.50</text>
<text class="ll" x="619.5" y="670" stroke="none" fill="#000">0.75</text>
<text class="ll" x="619.5" y="687" stroke="none" fill="#000">1.00</text>
</g>
<g id="legend-size">
<text class="lt" x="597" y="727">size</text>
<circle cx="615.3" cy="748" r="11.5" fill="#000"/>
<circle cx="615.3" cy="781.5" r="14.5" fill="#000"/>
<text class="ll" x="640" y="748">1000</text>
<text class="ll" x="640" y="781.5">2000</text>
</g>
</svg>
